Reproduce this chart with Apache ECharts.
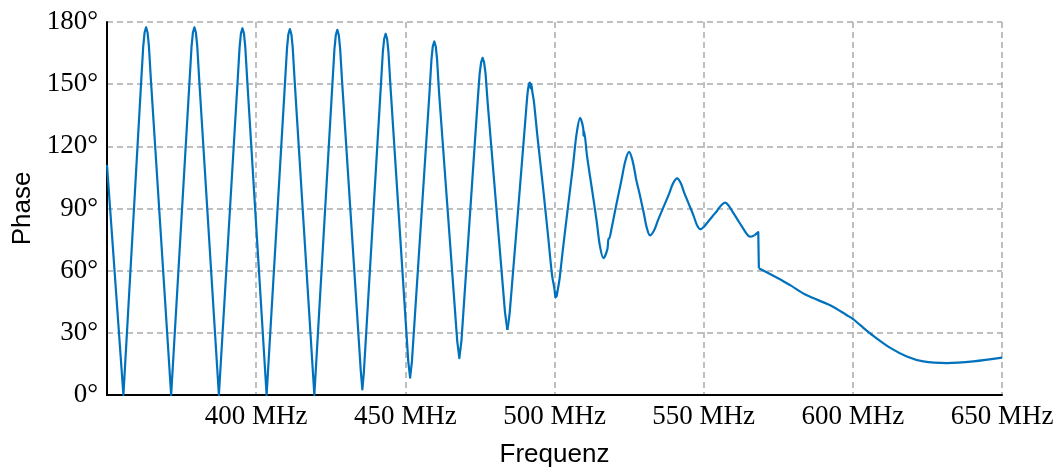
<!DOCTYPE html>
<html>
<head>
<meta charset="utf-8">
<script src="https://cdn.jsdelivr.net/npm/echarts@6/dist/echarts.min.js"></script>
<style>
html,body{margin:0;padding:0;background:#fff;}
#chart{width:1058px;height:473px;}
</style>
</head>
<body>
<div id="chart"></div>
<script>
// Frequency (MHz)
var freqMHz = [
350.0, 355.5,
361.5, 362.15, 362.6, 363.1, 363.6, 364.05, 364.7, 371.5,
377.7, 378.35, 378.8, 379.3, 379.8, 380.25, 380.9, 387.5,
393.8, 394.45, 394.9, 395.4, 395.9, 396.35, 397.0, 403.5,
409.7, 410.35, 410.8, 411.3, 411.8, 412.25, 412.9, 419.5,
425.6, 426.25, 426.7, 427.2, 427.7, 428.15, 428.8, 435.1, 435.6, 436.1,
441.8, 442.45, 442.9, 443.4, 443.9, 444.35, 445.0, 451.0, 451.6, 452.2,
458.1, 458.75, 459.2, 459.7, 460.2, 460.65, 461.3, 467.4, 468.1, 468.8,
474.2, 474.9, 475.4, 475.9, 476.4, 476.9, 477.6, 483.4, 484.2, 485.0,
490.3, 491.0, 491.5, 491.8, 492.0, 492.2, 492.6,
493.1, 494.4, 496.2, 497.9, 499.2,
500.0, 500.3, 500.5, 500.7, 501.0,
501.7, 502.9, 504.55, 506.2, 507.4,
508.6,
509.6, 509.75, 509.9, 510.9, 512.5, 514.1, 515.2,
516.4,
517.7, 518.1, 518.3, 519.0, 520.7, 522.4, 523.7,
525.0,
526.05, 527.1, 527.3, 528.5, 529.9, 530.95,
532.0,
533.4, 534.7, 536.55, 538.4, 539.7,
541.1,
542.3, 543.4, 545.0, 546.6, 547.7,
548.9,
550.1, 551.4, 553.05, 554.7, 555.9,
557.2,
558.4, 559.7, 561.35, 563.0, 564.3,
565.5, 567.0, 568.3, 568.5,
575.4, 579.0, 584.6, 592.4, 598.0, 600.2, 602.4, 606.9, 612.7, 618.1, 623.6, 631.5, 640.4, 650.0
];
// Phase (degrees)
var phaseDeg = [
111, 0,
152.4, 168.4, 174.9, 177.4, 174.9, 168.4, 152.4, 0,
152.4, 168.4, 174.9, 177.4, 174.9, 168.4, 152.4, 0,
152, 168, 174.5, 177, 174.5, 168, 152, 0,
151.6, 167.6, 174.1, 176.6, 174.1, 167.6, 151.6, 0,
151.2, 167.2, 173.7, 176.2, 173.7, 167.2, 151.2, 11, 2.7, 11,
149.3, 165.3, 171.8, 174.3, 171.8, 165.3, 149.3, 16, 8.4, 16,
146, 161.8, 168.2, 170.6, 168.2, 161.8, 146, 26, 17.8, 26,
141, 155, 160.5, 162.7, 160.5, 155, 141, 40, 31.4, 40,
134, 146, 150.3, 150.8, 148, 150, 146,
141.6, 123.2, 99.6, 76.0, 57.6,
51, 47, 49.5, 47.5, 50,
56.1, 71.4, 91.1, 110.7, 126.0,
133.7,
129, 125, 127.5, 115.4, 99.9, 84.3, 72.1,
66,
70.2, 75.5, 75.3, 79.4, 91.7, 103.4, 112.7,
117.3,
113.7, 106.4, 104.5, 97.2, 87.9, 80.6,
77,
79.5, 84.4, 90.75, 97.1, 102.0,
104.5,
102.3, 97.9, 92.25, 86.6, 82.2,
80,
81.2, 83.5, 86.4, 89.3, 91.6,
92.8,
91.3, 88.4, 84.65, 80.9, 78.0,
76.4, 77.0, 78.6, 61.2,
56, 53, 48.1, 43.3, 38.5, 36.5, 33.8, 28.5, 22.6, 18.6, 16.2, 15.4, 16.2, 18.0
];
var xTicks = [350, 400, 450, 500, 550, 600, 650];
var yTicks = [0, 30, 60, 90, 120, 150, 180];
var xTitle = 'Frequenz';
var yTitle = 'Phase';
// pieces of the curve: [from MHz, to MHz, smoothing]
var pieces = [
  [350.0, 484.2, false], // triangular wrapped phase
  [484.2, 567.0, 0.3],   // damped sinusoidal part
  [567.0, 568.5, false], // step
  [568.5, 650.0, 0.35]   // smooth tail
];

var gridLine = { show: true, lineStyle: { color: '#ababab', width: 1.5, type: [6, 4] } };
var serif = 'Liberation Serif';
var sans = 'Liberation Sans';
var lineColor = '#0072bd';

var series = pieces.map(function (pc) {
  var d = [];
  for (var i = 0; i < Math.min(freqMHz.length, phaseDeg.length); i++) {
    if (freqMHz[i] >= pc[0] && freqMHz[i] <= pc[1]) d.push([freqMHz[i], phaseDeg[i]]);
  }
  return {
    type: 'line', data: d, showSymbol: false, symbol: 'none',
    smooth: pc[2],
    lineStyle: { color: lineColor, width: 2.2, join: 'round' },
    clip: true, z: 3
  };
});

var chart = echarts.init(document.getElementById('chart'), null, { renderer: 'canvas' });
chart.setOption({
  animation: false,
  backgroundColor: '#ffffff',
  grid: { left: 107, right: 56, top: 22, bottom: 74, containLabel: false },
  xAxis: {
    type: 'value',
    min: xTicks[0], max: xTicks[xTicks.length - 1], interval: 50,
    name: xTitle, nameLocation: 'middle', nameGap: 47,
    nameTextStyle: { fontFamily: sans, fontSize: 26, color: '#000' },
    axisLine: { show: true, onZero: false, lineStyle: { color: '#000', width: 2 } },
    axisTick: { show: false },
    axisLabel: {
      margin: 8, fontFamily: serif, fontSize: 27, color: '#000',
      formatter: function (v) { return v === xTicks[0] ? '' : v + ' MHz'; }
    },
    splitLine: gridLine
  },
  yAxis: {
    type: 'value',
    min: yTicks[0], max: yTicks[yTicks.length - 1], interval: 30,
    name: yTitle, nameLocation: 'middle', nameGap: 70, nameRotate: 90,
    nameTextStyle: { fontFamily: sans, fontSize: 26, color: '#000' },
    axisLine: { show: true, onZero: false, lineStyle: { color: '#000', width: 2 } },
    axisTick: { show: false },
    axisLabel: {
      margin: 9, fontFamily: serif, fontSize: 27, color: '#000',
      formatter: function (v) { return v + '°'; }
    },
    splitLine: gridLine
  },
  series: series
});
</script>
</body>
</html>
